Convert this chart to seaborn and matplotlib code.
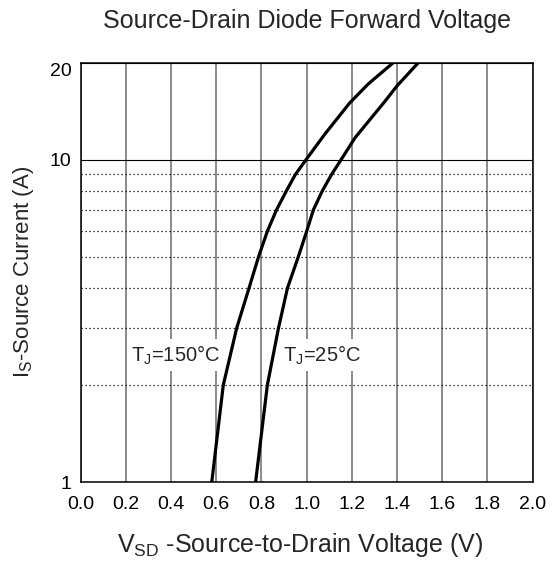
import seaborn as sns
import matplotlib.pyplot as plt
import matplotlib.ticker as mticker

# curve: TJ = 150 C
is_150 = [1, 2, 3, 4, 5, 6, 7, 8, 9, 10, 12, 15, 17.2, 20]
vsd_150 = [0.58, 0.631, 0.69, 0.745, 0.787, 0.826, 0.867, 0.91, 0.95, 0.997, 1.08, 1.19, 1.273, 1.383]

# curve: TJ = 25 C
is_25 = [1, 2, 3, 4, 5, 6, 7, 8, 9, 10, 11.7, 15.2, 16.9, 20]
vsd_25 = [0.774, 0.826, 0.875, 0.915, 0.963, 1.0, 1.03, 1.069, 1.11, 1.152, 1.214, 1.347, 1.398, 1.494]

x_ticks = [0.0, 0.2, 0.4, 0.6, 0.8, 1.0, 1.2, 1.4, 1.6, 1.8, 2.0]
y_ticks = [1, 10, 20]
y_minor = [2, 3, 4, 5, 6, 7, 8, 9]

sns.set_style("white")
plt.rcParams['font.family'] = ['Liberation Sans', 'DejaVu Sans']
plt.rcParams['mathtext.fontset'] = 'custom'
plt.rcParams['mathtext.rm'] = 'Liberation Sans'

fig = plt.figure(figsize=(5.55, 5.67), dpi=100)
ax = fig.add_axes([0.1454, 0.1499, 0.8144, 0.7395])

sns.lineplot(x=vsd_150, y=is_150, color='black', lw=2.3, sort=False, estimator=None, ax=ax, zorder=5)
sns.lineplot(x=vsd_25, y=is_25, color='black', lw=2.3, sort=False, estimator=None, ax=ax, zorder=5)

ax.set_yscale('log')
ax.set_xlim(0, 2.0)
ax.set_ylim(1, 20)

ax.set_xticks(x_ticks)
ax.set_xticklabels([f"{v:.1f}" for v in x_ticks])
ax.yaxis.set_major_locator(mticker.FixedLocator(y_ticks))
ax.yaxis.set_major_formatter(mticker.FixedFormatter([str(v) for v in y_ticks]))
ax.yaxis.set_minor_locator(mticker.FixedLocator(y_minor))
ax.yaxis.set_minor_formatter(mticker.NullFormatter())
ax.get_yticklabels()[2].set_va('top')

ax.tick_params(axis='both', which='both', length=0, labelsize=14, colors='black')
ax.tick_params(axis='x', pad=10)
ax.tick_params(axis='y', pad=6.5)

# grid
ax.grid(axis='x', which='major', color='#777777', lw=1.2, ls='-')
ax.grid(axis='y', which='major', color='black', lw=0.8, ls='-')
ax.grid(axis='y', which='minor', color='black', lw=0.9, ls=(0, (1, 2.2)))
ax.set_axisbelow(True)

for s in ax.spines.values():
    s.set_color('black')
    s.set_linewidth(1.1)

ax.set_title("Source-Drain Diode Forward Voltage", fontsize=18, pad=25)
ax.set_xlabel(r"$\mathregular{V_{SD}}$ -Source-to-Drain Voltage (V)", fontsize=18, labelpad=13, x=0.485)
ax.set_ylabel(r"$\mathregular{I_S}$-Source Current (A)", fontsize=16, labelpad=10)

box = dict(facecolor='white', edgecolor='none', pad=3)
ax.text(0.42, 2.48, r"$\mathregular{T_J}$=150°C", fontsize=14.5, ha='center', va='center', bbox=box, zorder=4)
ax.text(1.066, 2.48, r"$\mathregular{T_J}$=25°C", fontsize=14.5, ha='center', va='center', bbox=box, zorder=4)

fig.savefig("out.png", dpi=100)
